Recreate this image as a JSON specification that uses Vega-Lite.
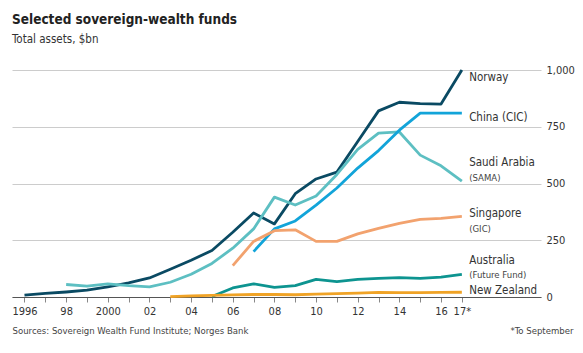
{
  "$schema": "https://vega.github.io/schema/vega-lite/v6.json",
  "width": 529,
  "height": 227,
  "autosize": "none",
  "padding": {"left": 12, "top": 70, "right": 42, "bottom": 56},
  "background": "white",
  "title": {
    "text": "Selected sovereign-wealth funds",
    "subtitle": "Total assets, $bn",
    "anchor": "start",
    "frame": "group",
    "offset": 19,
    "font": "DejaVu Sans Condensed, sans-serif",
    "fontSize": 13.5,
    "fontWeight": "bold",
    "color": "#222",
    "subtitleFont": "DejaVu Sans Condensed, sans-serif",
    "subtitleFontSize": 11.5,
    "subtitleColor": "#333",
    "subtitlePadding": 7
  },
  "datasets": {
    "funds": [
      {"fund": "Norway", "year": 1996, "v": 8}, {"fund": "Norway", "year": 1997, "v": 16}, {"fund": "Norway", "year": 1998, "v": 22}, {"fund": "Norway", "year": 1999, "v": 30}, {"fund": "Norway", "year": 2000, "v": 45}, {"fund": "Norway", "year": 2001, "v": 62}, {"fund": "Norway", "year": 2002, "v": 84}, {"fund": "Norway", "year": 2003, "v": 122}, {"fund": "Norway", "year": 2004, "v": 162}, {"fund": "Norway", "year": 2005, "v": 205}, {"fund": "Norway", "year": 2006, "v": 285}, {"fund": "Norway", "year": 2007, "v": 370}, {"fund": "Norway", "year": 2008, "v": 322}, {"fund": "Norway", "year": 2009, "v": 455}, {"fund": "Norway", "year": 2010, "v": 520}, {"fund": "Norway", "year": 2011, "v": 550}, {"fund": "Norway", "year": 2012, "v": 685}, {"fund": "Norway", "year": 2013, "v": 820}, {"fund": "Norway", "year": 2014, "v": 858}, {"fund": "Norway", "year": 2015, "v": 852}, {"fund": "Norway", "year": 2016, "v": 850}, {"fund": "Norway", "year": 2017, "v": 1000},
      {"fund": "Saudi Arabia", "year": 1998, "v": 55}, {"fund": "Saudi Arabia", "year": 1999, "v": 48}, {"fund": "Saudi Arabia", "year": 2000, "v": 58}, {"fund": "Saudi Arabia", "year": 2001, "v": 50}, {"fund": "Saudi Arabia", "year": 2002, "v": 45}, {"fund": "Saudi Arabia", "year": 2003, "v": 65}, {"fund": "Saudi Arabia", "year": 2004, "v": 100}, {"fund": "Saudi Arabia", "year": 2005, "v": 148}, {"fund": "Saudi Arabia", "year": 2006, "v": 215}, {"fund": "Saudi Arabia", "year": 2007, "v": 300}, {"fund": "Saudi Arabia", "year": 2008, "v": 440}, {"fund": "Saudi Arabia", "year": 2009, "v": 405}, {"fund": "Saudi Arabia", "year": 2010, "v": 445}, {"fund": "Saudi Arabia", "year": 2011, "v": 540}, {"fund": "Saudi Arabia", "year": 2012, "v": 650}, {"fund": "Saudi Arabia", "year": 2013, "v": 722}, {"fund": "Saudi Arabia", "year": 2014, "v": 727}, {"fund": "Saudi Arabia", "year": 2015, "v": 625}, {"fund": "Saudi Arabia", "year": 2016, "v": 578}, {"fund": "Saudi Arabia", "year": 2017, "v": 510},
      {"fund": "China", "year": 2007, "v": 200}, {"fund": "China", "year": 2008, "v": 300}, {"fund": "China", "year": 2009, "v": 335}, {"fund": "China", "year": 2010, "v": 405}, {"fund": "China", "year": 2011, "v": 480}, {"fund": "China", "year": 2012, "v": 568}, {"fund": "China", "year": 2013, "v": 645}, {"fund": "China", "year": 2014, "v": 735}, {"fund": "China", "year": 2015, "v": 810}, {"fund": "China", "year": 2016, "v": 810}, {"fund": "China", "year": 2017, "v": 810},
      {"fund": "Singapore", "year": 2006, "v": 138}, {"fund": "Singapore", "year": 2007, "v": 245}, {"fund": "Singapore", "year": 2008, "v": 292}, {"fund": "Singapore", "year": 2009, "v": 296}, {"fund": "Singapore", "year": 2010, "v": 245}, {"fund": "Singapore", "year": 2011, "v": 245}, {"fund": "Singapore", "year": 2012, "v": 278}, {"fund": "Singapore", "year": 2013, "v": 302}, {"fund": "Singapore", "year": 2014, "v": 324}, {"fund": "Singapore", "year": 2015, "v": 342}, {"fund": "Singapore", "year": 2016, "v": 346}, {"fund": "Singapore", "year": 2017, "v": 355},
      {"fund": "Australia", "year": 2005, "v": 2}, {"fund": "Australia", "year": 2006, "v": 40}, {"fund": "Australia", "year": 2007, "v": 58}, {"fund": "Australia", "year": 2008, "v": 42}, {"fund": "Australia", "year": 2009, "v": 50}, {"fund": "Australia", "year": 2010, "v": 78}, {"fund": "Australia", "year": 2011, "v": 68}, {"fund": "Australia", "year": 2012, "v": 78}, {"fund": "Australia", "year": 2013, "v": 82}, {"fund": "Australia", "year": 2014, "v": 85}, {"fund": "Australia", "year": 2015, "v": 82}, {"fund": "Australia", "year": 2016, "v": 88}, {"fund": "Australia", "year": 2017, "v": 100},
      {"fund": "New Zealand", "year": 2003, "v": 2}, {"fund": "New Zealand", "year": 2004, "v": 5}, {"fund": "New Zealand", "year": 2005, "v": 7}, {"fund": "New Zealand", "year": 2006, "v": 9}, {"fund": "New Zealand", "year": 2007, "v": 11}, {"fund": "New Zealand", "year": 2008, "v": 11}, {"fund": "New Zealand", "year": 2009, "v": 10}, {"fund": "New Zealand", "year": 2010, "v": 13}, {"fund": "New Zealand", "year": 2011, "v": 15}, {"fund": "New Zealand", "year": 2012, "v": 17}, {"fund": "New Zealand", "year": 2013, "v": 20}, {"fund": "New Zealand", "year": 2014, "v": 19}, {"fund": "New Zealand", "year": 2015, "v": 19}, {"fund": "New Zealand", "year": 2016, "v": 20}, {"fund": "New Zealand", "year": 2017, "v": 21}
    ],
    "labels": [
      {"text": "Norway", "kind": "name", "ly": 965},
      {"text": "China (CIC)", "kind": "name", "ly": 790},
      {"text": "Saudi Arabia", "kind": "name", "ly": 590},
      {"text": "(SAMA)", "kind": "note", "ly": 526},
      {"text": "Singapore", "kind": "name", "ly": 364},
      {"text": "(GIC)", "kind": "note", "ly": 298},
      {"text": "Australia", "kind": "name", "ly": 158},
      {"text": "(Future Fund)", "kind": "note", "ly": 96},
      {"text": "New Zealand", "kind": "name", "ly": 26}
    ]
  },
  "layer": [
    {
      "data": {"name": "funds"},
      "mark": {"type": "line", "strokeWidth": 2.8, "clip": false, "strokeJoin": "round"},
      "encoding": {
        "x": {
          "field": "year", "type": "quantitative",
          "scale": {"domain": [1995.4, 2020.8], "nice": false, "zero": false},
          "axis": {
            "values": [1996, 1997, 1998, 1999, 2000, 2001, 2002, 2003, 2004, 2005, 2006, 2007, 2008, 2009, 2010, 2011, 2012, 2013, 2014, 2015, 2016, 2017],
            "tickCount": 40,
            "labelExpr": "datum.value > 2016.5 ? '17*' : datum.value == 1996 ? '1996' : datum.value == 2000 ? '2000' : (datum.value % 2 == 0 ? slice(toString(datum.value), 2) : '')",
            "grid": false,
            "tickSize": 5,
            "tickColor": "#888",
            "domainColor": "#555",
            "labelPadding": 3,
            "labelFontSize": 11,
            "labelColor": "#333",
            "labelFont": "DejaVu Sans Condensed, sans-serif",
            "labelFlush": false,
            "labelOverlap": false,
            "labelBound": false,
            "title": "Sources: Sovereign Wealth Fund Institute; Norges Bank",
            "titleX": 0,
            "titleY": 36,
            "titleAlign": "left",
            "titleAnchor": "start",
            "titleBaseline": "alphabetic",
            "titleFontWeight": "normal",
            "titleFontSize": 9.5,
            "titleColor": "#444",
            "titleFont": "DejaVu Sans Condensed, sans-serif"
          }
        },
        "y": {
          "field": "v", "type": "quantitative",
          "scale": {"domain": [0, 1000], "nice": false},
          "axis": {
            "orient": "right",
            "values": [0, 250, 500, 750, 1000],
            "format": ",.0f",
            "grid": true,
            "gridColor": "#cccccc",
            "gridWidth": 1,
            "domain": false,
            "ticks": false,
            "labelPadding": 5,
            "labelFontSize": 11,
            "labelColor": "#333",
            "labelFont": "DejaVu Sans Condensed, sans-serif",
            "title": "*To September",
            "titleAngle": 0,
            "titleX": 32,
            "titleY": 263,
            "titleAlign": "right",
            "titleBaseline": "alphabetic",
            "titleFontWeight": "normal",
            "titleFontSize": 9.5,
            "titleColor": "#444",
            "titleFont": "DejaVu Sans Condensed, sans-serif"
          }
        },
        "color": {
          "field": "fund", "type": "nominal",
          "scale": {
            "domain": ["Saudi Arabia", "China", "Norway", "Singapore", "Australia", "New Zealand"],
            "range": ["#5dbfc2", "#12a4d9", "#0a4a63", "#f2a26e", "#0d9490", "#f0a326"]
          },
          "legend": null
        }
      }
    },
    {
      "data": {"name": "labels"},
      "transform": [{"filter": "datum.kind == 'name'"}],
      "mark": {"type": "text", "align": "left", "baseline": "middle", "fontSize": 11.5, "color": "#333", "font": "DejaVu Sans Condensed, sans-serif", "clip": false},
      "encoding": {
        "x": {"datum": 2017.35, "type": "quantitative"},
        "y": {"field": "ly", "type": "quantitative"},
        "text": {"field": "text"}
      }
    },
    {
      "data": {"name": "labels"},
      "transform": [{"filter": "datum.kind == 'note'"}],
      "mark": {"type": "text", "align": "left", "baseline": "middle", "fontSize": 9.5, "color": "#444", "font": "DejaVu Sans Condensed, sans-serif", "clip": false},
      "encoding": {
        "x": {"datum": 2017.35, "type": "quantitative"},
        "y": {"field": "ly", "type": "quantitative"},
        "text": {"field": "text"}
      }
    }
  ],
  "config": {
    "view": {"stroke": null},
    "axis": {"labelOverlap": false}
  }
}
